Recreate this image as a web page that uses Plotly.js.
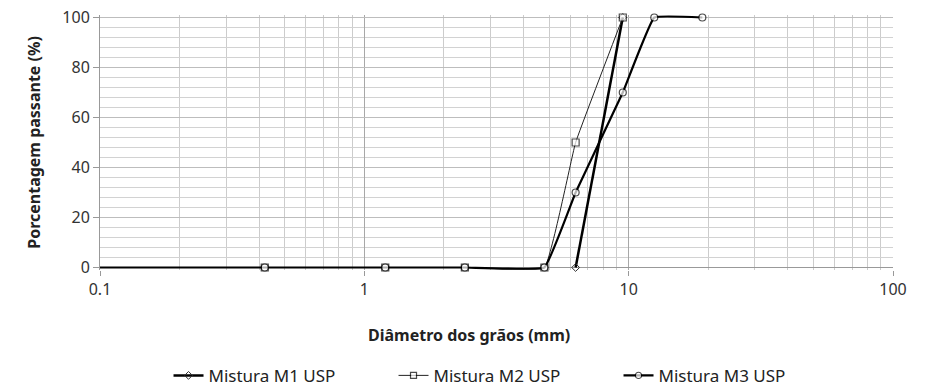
<!DOCTYPE html>
<html>
<head>
<meta charset="utf-8">
<script src="https://cdn.plot.ly/plotly-3.0.1.min.js"></script>
<style>body{margin:0;background:#fff}#chart{width:926px;height:387px}</style>
</head>
<body>
<div id="chart"></div>
<script>
// Diâmetro dos grãos (mm) and Porcentagem passante (%)
const m1Diam = [6.3, 9.5];
const m1Pass = [0, 100];
const m2Diam = [0.075, 0.42, 1.2, 2.4, 4.8, 6.3, 9.5];
const m2Pass = [0, 0, 0, 0, 0, 50, 100];
const m3Diam = [0.075, 0.42, 1.2, 2.4, 4.8, 6.3, 9.5, 12.5, 19];
const m3Pass = [0, 0, 0, 0, 0, 30, 70, 100, 100];
const seriesNames = ['Mistura M1 USP', 'Mistura M2 USP', 'Mistura M3 USP'];
const xTickVals = [0.1, 1, 10, 100];
const xTickText = ['0.1', '1', '10', '100'];
const xTitle = '<b>Diâmetro dos grãos (mm)</b>';
const yTitle = '<b>Porcentagem passante (%)</b>';

const font = 'Noto Sans, DejaVu Sans, sans-serif';
// hide the marker of the point that lies outside the axis range (line is clipped)
const sizesFor = (xs, s) => xs.map(v => (v < 0.1 ? 0 : s));

const traces = [
  {x: m1Diam, y: m1Pass, name: seriesNames[0], type: 'scatter', mode: 'lines+markers', cliponaxis: false,
   line: {color: '#000', width: 2.5, shape: 'spline', smoothing: 0.25},
   marker: {symbol: 'diamond-open', size: 6, color: '#333', line: {width: 1}}},
  {x: m2Diam, y: m2Pass, name: seriesNames[1], type: 'scatter', mode: 'lines+markers', cliponaxis: false,
   line: {color: '#222', width: 1, shape: 'spline', smoothing: 0.25},
   marker: {symbol: 'square', size: sizesFor(m2Diam, 7), color: '#fff', line: {color: '#000', width: 1.2}}},
  {x: m3Diam, y: m3Pass, name: seriesNames[2], type: 'scatter', mode: 'lines+markers', cliponaxis: false,
   line: {color: '#000', width: 2.2, shape: 'spline', smoothing: 0.25},
   marker: {symbol: 'circle', size: sizesFor(m3Diam, 7), color: '#fff', line: {color: '#000', width: 1.2}}}
];

const layout = {
  width: 926, height: 387,
  margin: {l: 100, r: 33, t: 15, b: 117, autoexpand: false},
  paper_bgcolor: '#fff', plot_bgcolor: '#fff',
  font: {family: font, color: '#222', size: 16},
  showlegend: true,
  legend: {orientation: 'h', x: 0.512, xanchor: 'center', y: -0.415, yanchor: 'middle',
           font: {family: font, size: 17, color: '#222'}, entrywidth: 180, traceorder: 'normal'},
  xaxis: {
    type: 'log', range: [-1, 2],
    tickvals: xTickVals, ticktext: xTickText,
    showgrid: true, gridcolor: '#a8a8a8', gridwidth: 1.3,
    minor: {dtick: 'D1', showgrid: true, gridcolor: '#cccccc', gridwidth: 1},
    ticks: 'outside', ticklen: 5, tickcolor: '#999',
    showline: false, zeroline: false,
    tickfont: {family: font, size: 16, color: '#333'}
  },
  yaxis: {
    range: [-1, 101], tickvals: [0, 20, 40, 60, 80, 100],
    showgrid: true, gridcolor: '#bdbdbd', gridwidth: 1.2,
    minor: {tickvals: [4, 8, 12, 16, 24, 28, 32, 36, 44, 48, 52, 56, 64, 68, 72, 76, 84, 88, 92, 96], showgrid: true, gridcolor: '#d2d2d2', gridwidth: 1},
    ticks: 'outside', ticklen: 6, tickcolor: '#999',
    showline: true, linecolor: '#999',
    zeroline: true, zerolinecolor: '#999', zerolinewidth: 1.3,
    tickfont: {family: font, size: 16, color: '#333'},
    title: {text: yTitle, font: {family: font, size: 16, color: '#222'}, standoff: 17}
  },
  annotations: [
    {text: xTitle, xref: 'paper', yref: 'paper', x: (469 - 100) / 793, y: (270 - 335) / 255,
     xanchor: 'center', yanchor: 'middle', showarrow: false,
     font: {family: font, size: 16, color: '#222'}}
  ]
};

Plotly.newPlot('chart', traces, layout, {displayModeBar: false, staticPlot: true});
</script>
</body>
</html>
